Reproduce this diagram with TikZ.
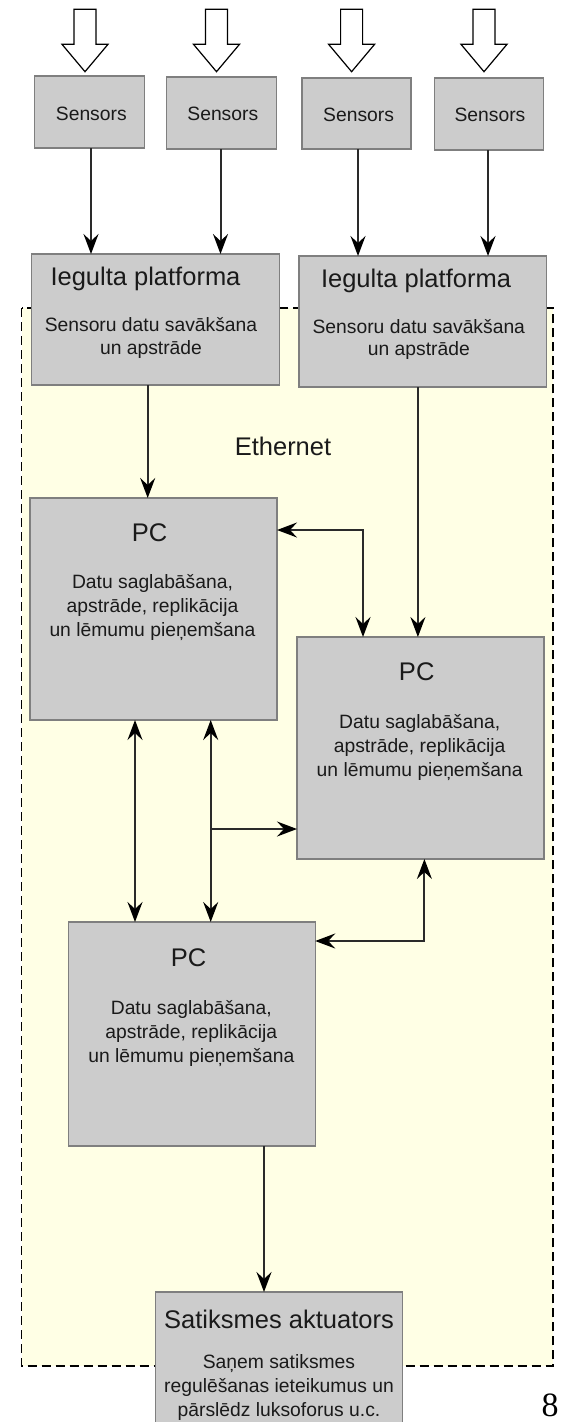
\documentclass[tikz,border=0pt]{standalone}
\usepackage{fontspec}
\setmainfont{Liberation Sans}
\newfontfamily\numfont{Liberation Serif}
\usetikzlibrary{arrows.meta}

\definecolor{zonefill}{HTML}{FFFFE5}
\definecolor{boxfill}{HTML}{CCCCCC}
\definecolor{boxedge}{HTML}{7F7F7F}
\definecolor{linegray}{HTML}{2A2A2A}
\definecolor{inkgray}{HTML}{1A1A1A}

\tikzset{
  tip/.tip={Stealth[length=20pt, width=15pt, inset=7pt, color=black]},
  box/.style={rectangle, draw=boxedge, fill=boxfill, line width=1.2pt,
              inner sep=0pt, outer sep=0pt, anchor=north west},
  titletxt/.style={anchor=base, inner sep=0pt, text=inkgray,
                   font=\fontsize{25.5}{30}\selectfont},
  bodytxt/.style={anchor=base, inner sep=0pt, text=inkgray,
                  font=\fontsize{19.3}{24}\selectfont},
  conn/.style={draw=linegray, line width=2pt, -tip},
  conn2/.style={draw=linegray, line width=2pt, tip-tip},
  hollow/.style={draw=black, fill=white, line width=1.2pt, line join=miter},
}

\begin{document}
\begin{tikzpicture}[x=1pt, y=-1pt]
\useasboundingbox (0,0) rectangle (562,1422);

% Ethernet zone
\draw[fill=zonefill, draw=black, line width=1.2pt, dash pattern=on 9pt off 5pt]
  (21.6,308) rectangle (553,1366);
\node[anchor=base, inner sep=0pt, text=inkgray, font=\fontsize{25.5}{30}\selectfont]
  (eth) at (283,455) {Ethernet};

% incoming signal arrows
\foreach \cx in {85,216.5,351.6,484}{
  \draw[hollow] (\cx-11,9.3) -- (\cx+11,9.3) -- (\cx+11,44.3) -- (\cx+23,44.3)
    -- (\cx,71.7) -- (\cx-23,44.3) -- (\cx-11,44.3) -- cycle;
}

% sensors
\node[box, minimum width=110pt, minimum height=72pt] (s1) at (34.2,76) {};
\node[box, minimum width=110pt, minimum height=72pt] (s2) at (166.1,77) {};
\node[box, minimum width=109pt, minimum height=71pt] (s3) at (301.9,78) {};
\node[box, minimum width=109pt, minimum height=72pt] (s4) at (434.1,78) {};
\node[bodytxt] (s1t) at (91.3,120) {Sensors};
\node[bodytxt] (s2t) at (222.8,120) {Sensors};
\node[bodytxt] (s3t) at (358.6,121) {Sensors};
\node[bodytxt] (s4t) at (490,121) {Sensors};

% embedded platforms
\node[box, minimum width=247.5pt, minimum height=131pt] (p1) at (31.7,254) {};
\node[box, minimum width=247.5pt, minimum height=131pt] (p2) at (299,256) {};
\node[titletxt] (p1t) at (145.5,285) {Iegulta platforma};
\node[bodytxt] (p1a) at (151,331.7) {Sensoru datu savākšana};
\node[bodytxt] (p1b) at (151,354) {un apstrāde};
\node[titletxt] (p2t) at (416,287) {Iegulta platforma};
\node[bodytxt] (p2a) at (418.8,333) {Sensoru datu savākšana};
\node[bodytxt] (p2b) at (418.8,355.5) {un apstrāde};

% computers
\node[box, minimum width=247pt, minimum height=222pt] (pc1) at (30,498) {};
\node[titletxt] (pc1t) at (149.5,541.7) {PC};
\node[bodytxt] (pc1a) at (152.5,588) {Datu saglabāšana,};
\node[bodytxt] (pc1b) at (152.5,612) {apstrāde, replikācija};
\node[bodytxt] (pc1c) at (152.5,636) {un lēmumu pieņemšana};

\node[box, minimum width=247pt, minimum height=222pt] (pc2) at (297,637) {};
\node[titletxt] (pc2t) at (416.7,680) {PC};
\node[bodytxt] (pc2a) at (419.7,728) {Datu saglabāšana,};
\node[bodytxt] (pc2b) at (419.7,752) {apstrāde, replikācija};
\node[bodytxt] (pc2c) at (419.7,776) {un lēmumu pieņemšana};

\node[box, minimum width=246.8pt, minimum height=224pt] (pc3) at (68.4,922) {};
\node[titletxt] (pc3t) at (188.6,966) {PC};
\node[bodytxt] (pc3a) at (191.3,1014) {Datu saglabāšana,};
\node[bodytxt] (pc3b) at (191.3,1038) {apstrāde, replikācija};
\node[bodytxt] (pc3c) at (191.3,1062) {un lēmumu pieņemšana};

% traffic actuator
\node[box, minimum width=247pt, minimum height=134pt] (act) at (155.6,1292) {};
\node[titletxt] (actt) at (279,1328) {Satiksmes aktuators};
\node[bodytxt] (acta) at (279,1368) {Saņem satiksmes};
\node[bodytxt] (actb) at (279,1392) {regulēšanas ieteikumus un};
\node[bodytxt] (actc) at (279,1416.5) {pārslēdz luksoforus u.c.};

% page number
\node[anchor=base, inner sep=0pt, font=\fontsize{34}{40}\numfont] (pg) at (550,1416) {8};

% lanes used by the connectors
\coordinate (a1) at (91,0);
\coordinate (a2) at (220.5,0);
\coordinate (a3) at (358,0);
\coordinate (a4) at (488,0);
\coordinate (l1) at (147.7,0);
\coordinate (l2) at (417.9,0);
\coordinate (l3) at (363,0);
\coordinate (l4) at (135,0);
\coordinate (l5) at (210.7,0);
\coordinate (l6) at (424.4,0);
\coordinate (l7) at (264,0);
\coordinate (r1) at (0,530);
\coordinate (r2) at (0,829);
\coordinate (r3) at (0,941);

% sensors to platforms
\draw[conn] (a1 |- s1.south) -- (a1 |- p1.north);
\draw[conn] (a2 |- s2.south) -- (a2 |- p1.north);
\draw[conn] (a3 |- s3.south) -- (a3 |- p2.north);
\draw[conn] (a4 |- s4.south) -- (a4 |- p2.north);

% platforms to computers
\draw[conn] (l1 |- p1.south) -- (l1 |- pc1.north);
\draw[conn] (l2 |- p2.south) -- (l2 |- pc2.north);

% links between computers
\draw[conn2] (pc1.east |- r1) -| (l3 |- pc2.north);
\draw[conn2] (l4 |- pc1.south) -- (l4 |- pc3.north);
\draw[conn2] (l5 |- pc1.south) -- (l5 |- pc3.north);
\draw[conn] (l5 |- r2) -- (pc2.west |- r2);
\draw[conn2] (l6 |- pc2.south) |- (pc3.east |- r3);

% computer to actuator
\draw[conn] (l7 |- pc3.south) -- (l7 |- act.north);
\end{tikzpicture}
\end{document}
